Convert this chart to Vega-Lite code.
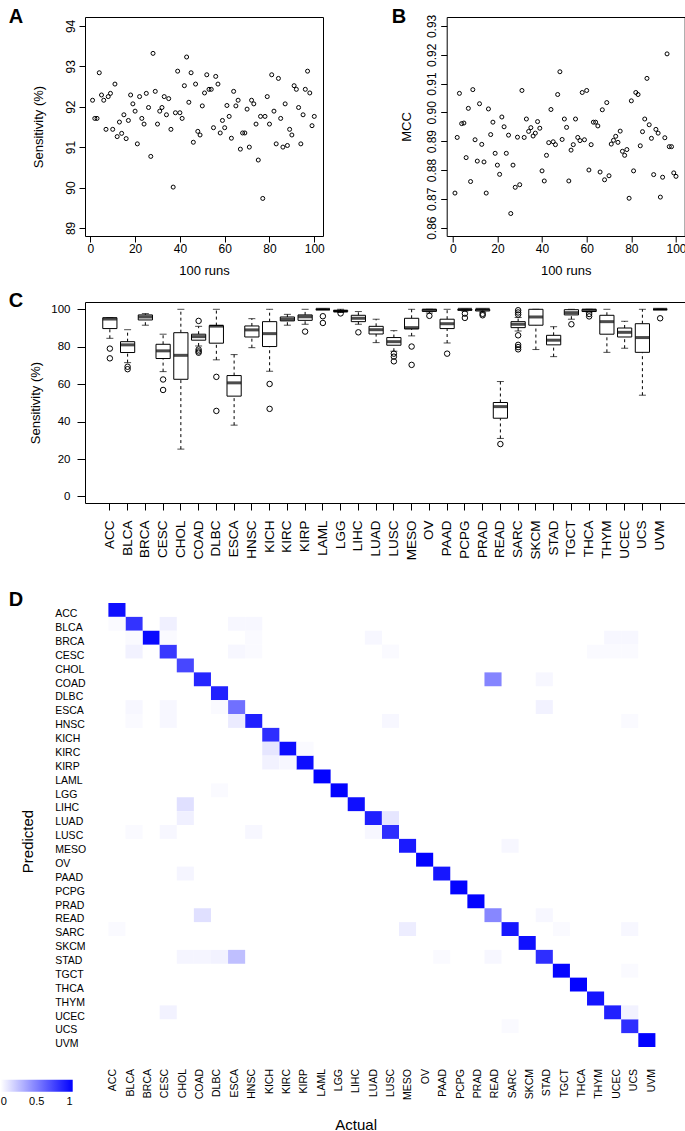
{
  "$schema": "https://vega.github.io/schema/vega-lite/v6.json",
  "background": "white",
  "padding": {"left": 0, "top": 6, "right": 0, "bottom": 0},
  "columns": 1,
  "align": "none",
  "spacing": 29,
  "resolve": {"scale": {"color": "independent"}, "legend": {"color": "independent"}},
  "config": {
    "font": "Liberation Sans",
    "view": {"stroke": "black", "strokeWidth": 1},
    "axis": {"domain": false, "grid": false, "tickColor": "black", "labelColor": "black", "titleColor": "black", "titleFontWeight": "normal", "labelFont": "Liberation Sans", "titleFont": "Liberation Sans", "labelFlush": false, "labelOverlap": false, "labelBound": false},
    "title": {"font": "Liberation Sans", "fontWeight": "bold", "fontSize": 20, "anchor": "start", "frame": "group", "color": "black", "offset": 0, "baseline": "alphabetic"},
    "legend": {"labelFont": "Liberation Sans", "labelColor": "black", "padding": 0}
  },
  "datasets": {
    "runs": [
      {"run":1,"sens":92.16,"mcc":0.8720},{"run":2,"sens":91.71,"mcc":0.8913},{"run":3,"sens":91.71,"mcc":0.9066},{"run":4,"sens":92.84,"mcc":0.8961},{"run":5,"sens":92.29,"mcc":0.8963},
      {"run":6,"sens":92.16,"mcc":0.8843},{"run":7,"sens":91.44,"mcc":0.9014},{"run":8,"sens":92.25,"mcc":0.8760},{"run":9,"sens":92.33,"mcc":0.9079},{"run":10,"sens":91.44,"mcc":0.8905},
      {"run":11,"sens":92.56,"mcc":0.8831},{"run":12,"sens":91.26,"mcc":0.9030},{"run":13,"sens":91.62,"mcc":0.8889},{"run":14,"sens":91.34,"mcc":0.8828},{"run":15,"sens":91.80,"mcc":0.8720},
      {"run":16,"sens":91.21,"mcc":0.9012},{"run":17,"sens":91.66,"mcc":0.8923},{"run":18,"sens":92.29,"mcc":0.8966},{"run":19,"sens":92.07,"mcc":0.8858},{"run":20,"sens":91.89,"mcc":0.8817},
      {"run":21,"sens":91.08,"mcc":0.8785},{"run":22,"sens":92.25,"mcc":0.8984},{"run":23,"sens":91.71,"mcc":0.8950},{"run":24,"sens":91.57,"mcc":0.8858},{"run":25,"sens":92.33,"mcc":0.8921},
      {"run":26,"sens":91.98,"mcc":0.8649},{"run":27,"sens":90.77,"mcc":0.8817},{"run":28,"sens":93.32,"mcc":0.8740},{"run":29,"sens":92.38,"mcc":0.8914},{"run":30,"sens":91.57,"mcc":0.8749},
      {"run":31,"sens":91.89,"mcc":0.9076},{"run":32,"sens":91.98,"mcc":0.8913},{"run":33,"sens":92.25,"mcc":0.8977},{"run":34,"sens":91.80,"mcc":0.8934},{"run":35,"sens":92.20,"mcc":0.8947},
      {"run":36,"sens":91.44,"mcc":0.8918},{"run":37,"sens":90.01,"mcc":0.8928},{"run":38,"sens":91.85,"mcc":0.8968},{"run":39,"sens":92.88,"mcc":0.8945},{"run":40,"sens":91.85,"mcc":0.8797},
      {"run":41,"sens":91.71,"mcc":0.8762},{"run":42,"sens":92.52,"mcc":0.8851},{"run":43,"sens":93.23,"mcc":0.8895},{"run":44,"sens":92.11,"mcc":0.9010},{"run":45,"sens":92.84,"mcc":0.8898},
      {"run":46,"sens":91.12,"mcc":0.8888},{"run":47,"sens":92.56,"mcc":0.9062},{"run":48,"sens":91.39,"mcc":0.9141},{"run":49,"sens":91.30,"mcc":0.8906},{"run":50,"sens":92.02,"mcc":0.8977},
      {"run":51,"sens":92.34,"mcc":0.8948},{"run":52,"sens":92.79,"mcc":0.8762},{"run":53,"sens":92.43,"mcc":0.8869},{"run":54,"sens":92.43,"mcc":0.8888},{"run":55,"sens":91.48,"mcc":0.8977},
      {"run":56,"sens":92.75,"mcc":0.8913},{"run":57,"sens":92.56,"mcc":0.8902},{"run":58,"sens":91.35,"mcc":0.9069},{"run":59,"sens":91.66,"mcc":0.8905},{"run":60,"sens":91.48,"mcc":0.9076},
      {"run":61,"sens":92.03,"mcc":0.8800},{"run":62,"sens":91.76,"mcc":0.8888},{"run":63,"sens":91.22,"mcc":0.8966},{"run":64,"sens":92.38,"mcc":0.8966},{"run":65,"sens":92.02,"mcc":0.8953},
      {"run":66,"sens":92.16,"mcc":0.8793},{"run":67,"sens":90.95,"mcc":0.9009},{"run":68,"sens":91.35,"mcc":0.8766},{"run":69,"sens":91.35,"mcc":0.9034},{"run":70,"sens":91.94,"mcc":0.8780},
      {"run":71,"sens":91.00,"mcc":0.8890},{"run":72,"sens":92.16,"mcc":0.8903},{"run":73,"sens":92.07,"mcc":0.8917},{"run":74,"sens":91.57,"mcc":0.8896},{"run":75,"sens":90.68,"mcc":0.8935},
      {"run":76,"sens":91.76,"mcc":0.8865},{"run":77,"sens":89.73,"mcc":0.8851},{"run":78,"sens":91.76,"mcc":0.8871},{"run":79,"sens":92.25,"mcc":0.8702},{"run":80,"sens":91.57,"mcc":0.9040},
      {"run":81,"sens":92.79,"mcc":0.8797},{"run":82,"sens":91.89,"mcc":0.9069},{"run":83,"sens":91.08,"mcc":0.9062},{"run":84,"sens":92.70,"mcc":0.8884},{"run":85,"sens":91.71,"mcc":0.8933},
      {"run":86,"sens":91.00,"mcc":0.8977},{"run":87,"sens":92.07,"mcc":0.9118},{"run":88,"sens":91.04,"mcc":0.8957},{"run":89,"sens":91.44,"mcc":0.8910},{"run":90,"sens":91.30,"mcc":0.8784},
      {"run":91,"sens":92.52,"mcc":0.8941},{"run":92,"sens":92.43,"mcc":0.8928},{"run":93,"sens":91.98,"mcc":0.8706},{"run":94,"sens":91.08,"mcc":0.8775},{"run":95,"sens":91.80,"mcc":0.8912},
      {"run":96,"sens":92.43,"mcc":0.9203},{"run":97,"sens":92.88,"mcc":0.8881},{"run":98,"sens":92.34,"mcc":0.8881},{"run":99,"sens":91.53,"mcc":0.8790},{"run":100,"sens":91.76,"mcc":0.8778}
    ],
    "boxes": [
      {"cancer":"ACC","lo":84.5,"q1":89.7,"med":94.8,"q3":95.5,"hi":95.6},
      {"cancer":"BLCA","lo":71.5,"q1":76.9,"med":81.0,"q3":82.7,"hi":89.1},
      {"cancer":"BRCA","lo":91.5,"q1":94.3,"med":95.9,"q3":97.0,"hi":97.7},
      {"cancer":"CESC","lo":66.7,"q1":73.7,"med":77.8,"q3":81.3,"hi":86.7},
      {"cancer":"CHOL","lo":25.3,"q1":62.6,"med":75.4,"q3":87.5,"hi":100},
      {"cancer":"COAD","lo":80.4,"q1":83.5,"med":85.4,"q3":86.7,"hi":90.9},
      {"cancer":"DLBC","lo":73.0,"q1":81.9,"med":91.0,"q3":91.3,"hi":100},
      {"cancer":"ESCA","lo":38.1,"q1":53.6,"med":60.7,"q3":64.6,"hi":75.8},
      {"cancer":"HNSC","lo":79.5,"q1":85.2,"med":89.0,"q3":91.1,"hi":95.0},
      {"cancer":"KICH","lo":66.9,"q1":80.1,"med":87.0,"q3":93.4,"hi":100},
      {"cancer":"KIRC","lo":91.5,"q1":93.8,"med":94.7,"q3":95.9,"hi":97.3},
      {"cancer":"KIRP","lo":92.0,"q1":94.1,"med":96.0,"q3":97.0,"hi":100},
      {"cancer":"LAML","lo":100,"q1":100,"med":100,"q3":100,"hi":100},
      {"cancer":"LGG","lo":98.3,"q1":98.8,"med":99.0,"q3":99.4,"hi":100},
      {"cancer":"LIHC","lo":92.0,"q1":93.4,"med":95.2,"q3":96.8,"hi":98.8},
      {"cancer":"LUAD","lo":82.2,"q1":86.8,"med":89.1,"q3":90.9,"hi":94.7},
      {"cancer":"LUSC","lo":77.6,"q1":80.8,"med":82.7,"q3":84.9,"hi":88.6},
      {"cancer":"MESO","lo":85.8,"q1":89.5,"med":90.2,"q3":95.2,"hi":100},
      {"cancer":"OV","lo":98.0,"q1":98.9,"med":99.5,"q3":100,"hi":100},
      {"cancer":"PAAD","lo":82.0,"q1":89.7,"med":92.3,"q3":94.7,"hi":100},
      {"cancer":"PCPG","lo":99.0,"q1":99.5,"med":100,"q3":100,"hi":100},
      {"cancer":"PRAD","lo":98.5,"q1":99.1,"med":100,"q3":100,"hi":100},
      {"cancer":"READ","lo":31.0,"q1":41.8,"med":48.0,"q3":50.2,"hi":61.4},
      {"cancer":"SARC","lo":88.4,"q1":90.2,"med":92.0,"q3":93.4,"hi":95.6},
      {"cancer":"SKCM","lo":78.5,"q1":91.5,"med":95.9,"q3":100,"hi":100},
      {"cancer":"STAD","lo":74.7,"q1":81.0,"med":83.5,"q3":86.1,"hi":90.7},
      {"cancer":"TGCT","lo":94.7,"q1":97.0,"med":98.2,"q3":99.8,"hi":100},
      {"cancer":"THCA","lo":98.5,"q1":98.8,"med":99.5,"q3":100,"hi":100},
      {"cancer":"THYM","lo":77.0,"q1":86.7,"med":93.4,"q3":96.8,"hi":100},
      {"cancer":"UCEC","lo":79.2,"q1":85.2,"med":87.7,"q3":90.0,"hi":93.6},
      {"cancer":"UCS","lo":54.1,"q1":77.0,"med":84.9,"q3":92.3,"hi":100},
      {"cancer":"UVM","lo":100,"q1":100,"med":100,"q3":100,"hi":100}
    ],
    "outliers": [
      {"cancer":"ACC","value":79.0},{"cancer":"ACC","value":73.8},
      {"cancer":"BLCA","value":69.3},{"cancer":"BLCA","value":68.0},
      {"cancer":"CESC","value":62.5},{"cancer":"CESC","value":56.9},
      {"cancer":"COAD","value":93.8},{"cancer":"COAD","value":78.5},{"cancer":"COAD","value":77.5},{"cancer":"COAD","value":76.8},
      {"cancer":"DLBC","value":63.9},{"cancer":"DLBC","value":45.7},
      {"cancer":"KICH","value":60.1},{"cancer":"KICH","value":46.8},
      {"cancer":"KIRP","value":88.1},
      {"cancer":"LAML","value":96.3},{"cancer":"LAML","value":92.7},
      {"cancer":"LGG","value":97.8},
      {"cancer":"LIHC","value":87.7},
      {"cancer":"LUSC","value":76.3},{"cancer":"LUSC","value":74.7},{"cancer":"LUSC","value":72.2},
      {"cancer":"MESO","value":80.1},{"cancer":"MESO","value":70.3},
      {"cancer":"OV","value":96.5},
      {"cancer":"PAAD","value":76.3},
      {"cancer":"PCPG","value":97.7},{"cancer":"PCPG","value":95.4},
      {"cancer":"PRAD","value":97.6},{"cancer":"PRAD","value":96.8},
      {"cancer":"READ","value":28.0},
      {"cancer":"SARC","value":99.5},{"cancer":"SARC","value":98.3},{"cancer":"SARC","value":97.2},{"cancer":"SARC","value":86.1},{"cancer":"SARC","value":81.0},{"cancer":"SARC","value":79.8},{"cancer":"SARC","value":78.6},
      {"cancer":"TGCT","value":92.0},
      {"cancer":"THCA","value":97.5},{"cancer":"THCA","value":96.2},
      {"cancer":"UVM","value":95.2}
    ],
    "cats": [
      {"name":"ACC"},{"name":"BLCA"},{"name":"BRCA"},{"name":"CESC"},{"name":"CHOL"},{"name":"COAD"},{"name":"DLBC"},{"name":"ESCA"},
      {"name":"HNSC"},{"name":"KICH"},{"name":"KIRC"},{"name":"KIRP"},{"name":"LAML"},{"name":"LGG"},{"name":"LIHC"},{"name":"LUAD"},
      {"name":"LUSC"},{"name":"MESO"},{"name":"OV"},{"name":"PAAD"},{"name":"PCPG"},{"name":"PRAD"},{"name":"READ"},{"name":"SARC"},
      {"name":"SKCM"},{"name":"STAD"},{"name":"TGCT"},{"name":"THCA"},{"name":"THYM"},{"name":"UCEC"},{"name":"UCS"},{"name":"UVM"}
    ],
    "confusion": [
      {"pred":"ACC","actual":"ACC","value":0.94},{"pred":"BLCA","actual":"BLCA","value":0.80},{"pred":"BRCA","actual":"BRCA","value":0.96},{"pred":"CESC","actual":"CESC","value":0.78},
      {"pred":"CHOL","actual":"CHOL","value":0.72},{"pred":"COAD","actual":"COAD","value":0.85},{"pred":"DLBC","actual":"DLBC","value":0.87},{"pred":"ESCA","actual":"ESCA","value":0.56},
      {"pred":"HNSC","actual":"HNSC","value":0.88},{"pred":"KICH","actual":"KICH","value":0.82},{"pred":"KIRC","actual":"KIRC","value":0.95},{"pred":"KIRP","actual":"KIRP","value":0.95},
      {"pred":"LAML","actual":"LAML","value":0.99},{"pred":"LGG","actual":"LGG","value":0.99},{"pred":"LIHC","actual":"LIHC","value":0.94},{"pred":"LUAD","actual":"LUAD","value":0.88},
      {"pred":"LUSC","actual":"LUSC","value":0.82},{"pred":"MESO","actual":"MESO","value":0.90},{"pred":"OV","actual":"OV","value":0.99},{"pred":"PAAD","actual":"PAAD","value":0.91},
      {"pred":"PCPG","actual":"PCPG","value":0.99},{"pred":"PRAD","actual":"PRAD","value":0.99},{"pred":"READ","actual":"READ","value":0.47},{"pred":"SARC","actual":"SARC","value":0.91},
      {"pred":"SKCM","actual":"SKCM","value":0.94},{"pred":"STAD","actual":"STAD","value":0.82},{"pred":"TGCT","actual":"TGCT","value":0.98},{"pred":"THCA","actual":"THCA","value":0.99},
      {"pred":"THYM","actual":"THYM","value":0.92},{"pred":"UCEC","actual":"UCEC","value":0.87},{"pred":"UCS","actual":"UCS","value":0.82},{"pred":"UVM","actual":"UVM","value":0.99},
      {"pred":"BLCA","actual":"ACC","value":0.02},{"pred":"BLCA","actual":"CESC","value":0.06},{"pred":"BLCA","actual":"ESCA","value":0.03},{"pred":"BLCA","actual":"HNSC","value":0.03},
      {"pred":"BRCA","actual":"BLCA","value":0.02},{"pred":"BRCA","actual":"CESC","value":0.02},{"pred":"BRCA","actual":"HNSC","value":0.02},{"pred":"BRCA","actual":"LUAD","value":0.03},
      {"pred":"BRCA","actual":"UCEC","value":0.03},{"pred":"BRCA","actual":"UCS","value":0.03},
      {"pred":"CESC","actual":"BLCA","value":0.05},{"pred":"CESC","actual":"ESCA","value":0.03},{"pred":"CESC","actual":"HNSC","value":0.02},{"pred":"CESC","actual":"LUSC","value":0.02},
      {"pred":"CESC","actual":"THYM","value":0.02},{"pred":"CESC","actual":"UCEC","value":0.02},{"pred":"CESC","actual":"UCS","value":0.02},
      {"pred":"COAD","actual":"READ","value":0.48},{"pred":"COAD","actual":"STAD","value":0.03},
      {"pred":"ESCA","actual":"BLCA","value":0.03},{"pred":"ESCA","actual":"CESC","value":0.03},{"pred":"ESCA","actual":"DLBC","value":0.02},{"pred":"ESCA","actual":"STAD","value":0.05},
      {"pred":"HNSC","actual":"BLCA","value":0.02},{"pred":"HNSC","actual":"CESC","value":0.03},{"pred":"HNSC","actual":"ESCA","value":0.08},{"pred":"HNSC","actual":"LUSC","value":0.03},{"pred":"HNSC","actual":"UCS","value":0.02},
      {"pred":"KIRC","actual":"KICH","value":0.10},{"pred":"KIRC","actual":"KIRP","value":0.02},
      {"pred":"KIRP","actual":"KICH","value":0.05},{"pred":"KIRP","actual":"KIRC","value":0.03},
      {"pred":"LGG","actual":"DLBC","value":0.02},
      {"pred":"LIHC","actual":"CHOL","value":0.12},
      {"pred":"LUAD","actual":"CHOL","value":0.06},{"pred":"LUAD","actual":"LUSC","value":0.10},
      {"pred":"LUSC","actual":"BLCA","value":0.02},{"pred":"LUSC","actual":"CESC","value":0.03},{"pred":"LUSC","actual":"HNSC","value":0.03},{"pred":"LUSC","actual":"LUAD","value":0.03},
      {"pred":"MESO","actual":"SARC","value":0.03},
      {"pred":"PAAD","actual":"CHOL","value":0.04},
      {"pred":"READ","actual":"COAD","value":0.12},{"pred":"READ","actual":"STAD","value":0.03},
      {"pred":"SARC","actual":"ACC","value":0.02},{"pred":"SARC","actual":"MESO","value":0.07},{"pred":"SARC","actual":"TGCT","value":0.02},{"pred":"SARC","actual":"UCS","value":0.03},
      {"pred":"STAD","actual":"CHOL","value":0.04},{"pred":"STAD","actual":"COAD","value":0.04},{"pred":"STAD","actual":"DLBC","value":0.05},{"pred":"STAD","actual":"ESCA","value":0.25},
      {"pred":"STAD","actual":"PAAD","value":0.02},{"pred":"STAD","actual":"READ","value":0.03},
      {"pred":"TGCT","actual":"UCS","value":0.02},
      {"pred":"UCEC","actual":"CESC","value":0.05},{"pred":"UCEC","actual":"UCS","value":0.05},
      {"pred":"UCS","actual":"SARC","value":0.02}
    ]
  },
  "concat": [
    {
      "columns": 1,
      "align": "none",
      "spacing": 12,
      "concat": [
        {
          "spacing": 65.7,
          "hconcat": [
            {
              "width": 238,
              "height": 219,
              "title": {"text": "A", "dx": -76.3, "dy": 14},
              "data": {"name": "runs"},
              "mark": {"type": "point", "shape": "circle", "filled": false, "stroke": "black", "strokeWidth": 1, "size": 16, "opacity": 1},
              "encoding": {
                "x": {"field": "run", "type": "quantitative", "scale": {"domain": [-2.37, 103.9], "nice": false, "zero": false},
                      "axis": {"values": [0, 20, 40, 60, 80, 100], "tickSize": 6, "labelPadding": 1, "labelFontSize": 12, "title": "100 runs", "titleFontSize": 13, "titlePadding": 10}},
                "y": {"field": "sens", "type": "quantitative", "scale": {"domain": [88.8, 94.22], "nice": false, "zero": false},
                      "axis": {"values": [89, 90, 91, 92, 93, 94], "labelAngle": -90, "labelAlign": "center", "labelBaseline": "bottom", "labelPadding": 2, "tickSize": 6, "labelFontSize": 12, "title": "Sensitivity (%)", "titleFontSize": 13, "titlePadding": 19}}
              }
            },
            {
              "width": 238,
              "height": 219,
              "title": {"text": "B", "dx": -55, "dy": 17},
              "data": {"name": "runs"},
              "mark": {"type": "point", "shape": "circle", "filled": false, "stroke": "black", "strokeWidth": 1, "size": 16, "opacity": 1},
              "encoding": {
                "x": {"field": "run", "type": "quantitative", "scale": {"domain": [-2.7, 103.9], "nice": false, "zero": false},
                      "axis": {"values": [0, 20, 40, 60, 80, 100], "tickSize": 6, "labelPadding": 1, "labelFontSize": 12, "title": "100 runs", "titleFontSize": 13, "titlePadding": 10}},
                "y": {"field": "mcc", "type": "quantitative", "scale": {"domain": [0.8571, 0.9331], "nice": false, "zero": false},
                      "axis": {"values": [0.86, 0.87, 0.88, 0.89, 0.90, 0.91, 0.92, 0.93], "format": ".2f", "labelAngle": -90, "labelAlign": "center", "labelBaseline": "bottom", "labelPadding": 2, "tickSize": 6, "labelFontSize": 12, "title": "MCC", "titleFontSize": 13, "titlePadding": 12}}
              }
            }
          ]
        },
        {
          "width": 600,
          "height": 201,
          "title": {"text": "C", "dx": -76.3, "dy": 13},
          "encoding": {
            "x": {"field": "cancer", "type": "nominal", "sort": null,
                  "scale": {"type": "band", "domain": ["ACC","BLCA","BRCA","CESC","CHOL","COAD","DLBC","ESCA","HNSC","KICH","KIRC","KIRP","LAML","LGG","LIHC","LUAD","LUSC","MESO","OV","PAAD","PCPG","PRAD","READ","SARC","SKCM","STAD","TGCT","THCA","THYM","UCEC","UCS","UVM"], "paddingInner": 0.2, "paddingOuter": 1.38},
                  "axis": {"title": null, "labelAngle": -90, "labelAlign": "right", "labelBaseline": "middle", "tickSize": 7, "labelPadding": 10, "labelFontSize": 13.5}}
          },
          "layer": [
            {
              "data": {"name": "boxes"},
              "mark": {"type": "rule", "color": "black", "strokeWidth": 1, "strokeDash": [3, 3]},
              "encoding": {
                "y": {"field": "q3", "type": "quantitative", "scale": {"domain": [-3.5, 103.9], "nice": false, "zero": false},
                      "axis": {"values": [0, 20, 40, 60, 80, 100], "labelAngle": 0, "tickSize": 8, "labelPadding": 7, "labelFontSize": 11.5, "title": "Sensitivity (%)", "titleFontSize": 13, "titlePadding": 8}},
                "y2": {"field": "hi"}
              }
            },
            {
              "data": {"name": "boxes"},
              "mark": {"type": "rule", "color": "black", "strokeWidth": 1, "strokeDash": [3, 3]},
              "encoding": {"y": {"field": "lo", "type": "quantitative"}, "y2": {"field": "q1"}}
            },
            {
              "data": {"name": "boxes"},
              "mark": {"type": "tick", "color": "black", "thickness": 1, "size": 7},
              "encoding": {"y": {"field": "hi", "type": "quantitative"}}
            },
            {
              "data": {"name": "boxes"},
              "mark": {"type": "tick", "color": "black", "thickness": 1, "size": 7},
              "encoding": {"y": {"field": "lo", "type": "quantitative"}}
            },
            {
              "data": {"name": "boxes"},
              "mark": {"type": "bar", "fill": "white", "stroke": "black", "strokeWidth": 1},
              "encoding": {"y": {"field": "q1", "type": "quantitative"}, "y2": {"field": "q3"}}
            },
            {
              "data": {"name": "boxes"},
              "mark": {"type": "tick", "color": "black", "thickness": 3, "size": 14},
              "encoding": {"y": {"field": "med", "type": "quantitative"}}
            },
            {
              "data": {"name": "outliers"},
              "mark": {"type": "point", "shape": "circle", "filled": false, "stroke": "black", "strokeWidth": 1, "size": 30, "opacity": 1},
              "encoding": {"y": {"field": "value", "type": "quantitative"}}
            }
          ]
        }
      ]
    },
    {
      "width": 570.4,
      "height": 444,
      "view": {"stroke": null},
      "title": {"text": "D", "dx": -76.3, "dy": 11},
      "resolve": {"scale": {"x": "independent"}, "axis": {"x": "independent"}},
      "layer": [
        {
          "data": {"name": "confusion"},
          "mark": {"type": "rect"},
          "encoding": {
            "x": {"field": "actual", "type": "nominal", "sort": null,
                  "scale": {"type": "band", "domain": ["ACC","BLCA","BRCA","CESC","CHOL","COAD","DLBC","ESCA","HNSC","KICH","KIRC","KIRP","LAML","LGG","LIHC","LUAD","LUSC","MESO","OV","PAAD","PCPG","PRAD","READ","SARC","SKCM","STAD","TGCT","THCA","THYM","UCEC","UCS","UVM"], "paddingInner": 0, "paddingOuter": 0, "range": [23.4, 570.4]},
                  "axis": null},
            "y": {"field": "pred", "type": "nominal", "sort": null,
                  "scale": {"type": "band", "domain": ["ACC","BLCA","BRCA","CESC","CHOL","COAD","DLBC","ESCA","HNSC","KICH","KIRC","KIRP","LAML","LGG","LIHC","LUAD","LUSC","MESO","OV","PAAD","PCPG","PRAD","READ","SARC","SKCM","STAD","TGCT","THCA","THYM","UCEC","UCS","UVM"], "paddingInner": 0, "paddingOuter": 0},
                  "axis": {"ticks": false, "tickSize": 0, "labelAlign": "left", "labelPadding": 30.3, "labelOffset": 4.3, "labelFontSize": 10.5, "title": "Predicted", "titleFontSize": 15, "titleX": -52.6, "titleY": 238, "titleBaseline": "alphabetic"}},
            "color": {"field": "value", "type": "quantitative",
                      "scale": {"domain": [0, 1], "range": ["#ffffff", "#0000ff"], "interpolate": "rgb"},
                      "legend": {"orient": "none", "legendX": -84.3, "legendY": 476.7, "direction": "horizontal", "gradientLength": 72, "gradientThickness": 12, "title": null, "values": [0, 0.5, 1], "format": "~g", "labelFontSize": 11, "gradientStrokeWidth": 0, "labelOffset": 4}}
          }
        },
        {
          "data": {"name": "cats"},
          "mark": {"type": "tick", "opacity": 0},
          "encoding": {
            "x": {"field": "name", "type": "nominal", "sort": null,
                  "scale": {"type": "point", "domain": ["ACC","BLCA","BRCA","CESC","CHOL","COAD","DLBC","ESCA","HNSC","KICH","KIRC","KIRP","LAML","LGG","LIHC","LUAD","LUSC","MESO","OV","PAAD","PCPG","PRAD","READ","SARC","SKCM","STAD","TGCT","THCA","THYM","UCEC","UCS","UVM"], "padding": 0.25, "range": [23.4, 570.4]},
                  "axis": {"orient": "bottom", "ticks": false, "tickSize": 0, "labelAngle": -90, "labelAlign": "right", "labelBaseline": "middle", "labelPadding": 21.5, "labelFontSize": 10.5, "title": "Actual", "titleFontSize": 15, "titleX": 270.7, "titleY": 82.5, "titleBaseline": "alphabetic"}}
          }
        }
      ]
    }
  ]
}
